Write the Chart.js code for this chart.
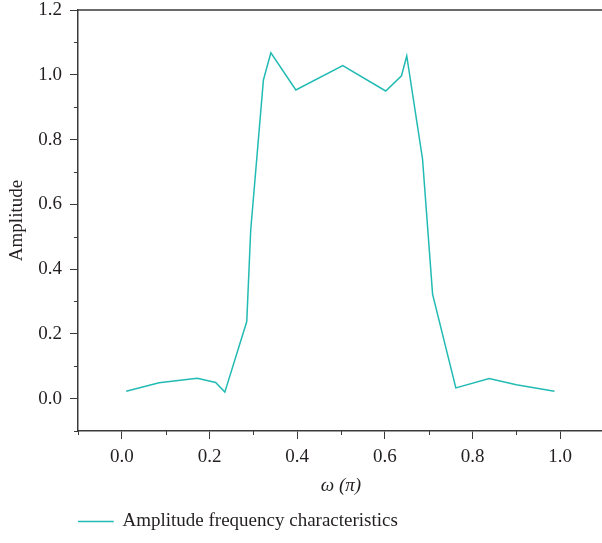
<!DOCTYPE html>
<html>
<head>
<meta charset="utf-8">
<script src="https://cdn.jsdelivr.net/npm/chart.js@4/dist/chart.umd.min.js"></script>
<style>
  html, body { margin: 0; padding: 0; background: #ffffff; overflow: hidden; }
  #wrap { width: 602px; height: 543px; overflow: hidden; position: relative; }
  canvas { display: block; }
</style>
</head>
<body>
<div id="wrap"><canvas id="c" width="606" height="543"></canvas></div>
<script>
// ---- data ----
const omegaValues = [0.010, 0.085, 0.172, 0.214, 0.235, 0.285, 0.294, 0.323, 0.340, 0.397,
                     0.504, 0.602, 0.638, 0.650, 0.686, 0.709, 0.762, 0.838, 0.900, 0.987];
const amplitudeValues = [0.023, 0.049, 0.063, 0.050, 0.020, 0.238, 0.520, 0.984, 1.068, 0.953,
                         1.028, 0.950, 0.997, 1.058, 0.740, 0.322, 0.033, 0.062, 0.043, 0.023];
const seriesName = 'Amplitude frequency characteristics';
const xTickValues = [0.0, 0.2, 0.4, 0.6, 0.8, 1.0];
const yTickValues = [0.0, 0.2, 0.4, 0.6, 0.8, 1.0, 1.2];
const xMinorTicks = [-0.1, 0.1, 0.3, 0.5, 0.7, 0.9, 1.1];
const yMinorTicks = [-0.1, 0.1, 0.3, 0.5, 0.7, 0.9, 1.1];
const xTitle = 'ω (π)';
const yTitle = 'Amplitude';

const points = omegaValues.map((x, i) => ({ x: x, y: amplitudeValues[i] }));

const AXIS = '#3a3a3a';
const TEXT = '#231f20';
const LINE = '#22bbb3';
const FONT = 'Liberation Serif, Times New Roman, serif';

const frameAndMinor = {
  id: 'frameAndMinor',
  afterDraw(chart) {
    const ctx = chart.ctx;
    const a = chart.chartArea;
    const xs = chart.scales.x, ys = chart.scales.y;
    ctx.save();
    ctx.strokeStyle = AXIS;
    ctx.lineWidth = 1.5;
    ctx.beginPath();
    ctx.moveTo(a.left, a.top);
    ctx.lineTo(a.right + 5, a.top);
    ctx.stroke();
    ctx.lineWidth = 1;
    ctx.beginPath();
    xMinorTicks.forEach(v => {
      const px = Math.round(xs.getPixelForValue(v)) + 0.5;
      ctx.moveTo(px, a.bottom);
      ctx.lineTo(px, a.bottom + 4);
    });
    yMinorTicks.forEach(v => {
      const py = Math.round(ys.getPixelForValue(v)) + 0.5;
      ctx.moveTo(a.left - 4, py);
      ctx.lineTo(a.left, py);
    });
    ctx.stroke();
    ctx.restore();
  }
};

new Chart(document.getElementById('c'), {
  type: 'scatter',
  data: {
    datasets: [{
      label: seriesName,
      data: points,
      showLine: true,
      borderColor: LINE,
      backgroundColor: LINE,
      borderWidth: 1.5,
      pointRadius: 0,
      pointHoverRadius: 0,
      tension: 0
    }]
  },
  options: {
    responsive: false,
    animation: false,
    devicePixelRatio: 1,
    layout: { padding: { top: 10, right: 2, bottom: 2, left: 0 } },
    plugins: {
      tooltip: { enabled: false },
      legend: {
        position: 'bottom',
        align: 'start',
        fullSize: false,
        labels: {
          padding: 0,
          boxWidth: 35,
          boxHeight: 0.01,
          color: TEXT,
          font: { family: FONT, size: 19 }
        }
      }
    },
    scales: {
      x: {
        type: 'linear',
        min: -0.1,
        max: 1.1,
        afterBuildTicks: s => { s.ticks = xTickValues.map(v => ({ value: v })); },
        afterFit: s => { s.height = 81; s.paddingLeft = 0; s.paddingRight = 0; },
        border: { display: true, color: AXIS, width: 1.5 },
        grid: { display: true, drawOnChartArea: false, drawTicks: true, tickLength: 8, tickColor: AXIS, tickWidth: 1 },
        ticks: {
          color: TEXT, padding: 7, maxRotation: 0,
          font: { family: FONT, size: 19 },
          callback: v => Number(v).toFixed(1)
        },
        title: {
          display: true, text: xTitle, color: TEXT,
          font: { family: FONT, size: 19, style: 'italic' },
          padding: { top: 0, bottom: 15 }
        }
      },
      y: {
        type: 'linear',
        min: -0.1,
        max: 1.2,
        afterBuildTicks: s => { s.ticks = yTickValues.map(v => ({ value: v })); },
        afterFit: s => { s.width = 78; s.paddingTop = 0; s.paddingBottom = 0; },
        border: { display: true, color: AXIS, width: 1.5 },
        grid: { display: true, drawOnChartArea: false, drawTicks: true, tickLength: 8, tickColor: AXIS, tickWidth: 1 },
        ticks: {
          color: TEXT, padding: 8,
          font: { family: FONT, size: 19 },
          callback: v => Number(v).toFixed(1)
        },
        title: {
          display: true, text: yTitle, color: TEXT,
          font: { family: FONT, size: 19 },
          padding: { top: 6, bottom: 0 }
        }
      }
    }
  },
  plugins: [frameAndMinor]
});
</script>
</body>
</html>
